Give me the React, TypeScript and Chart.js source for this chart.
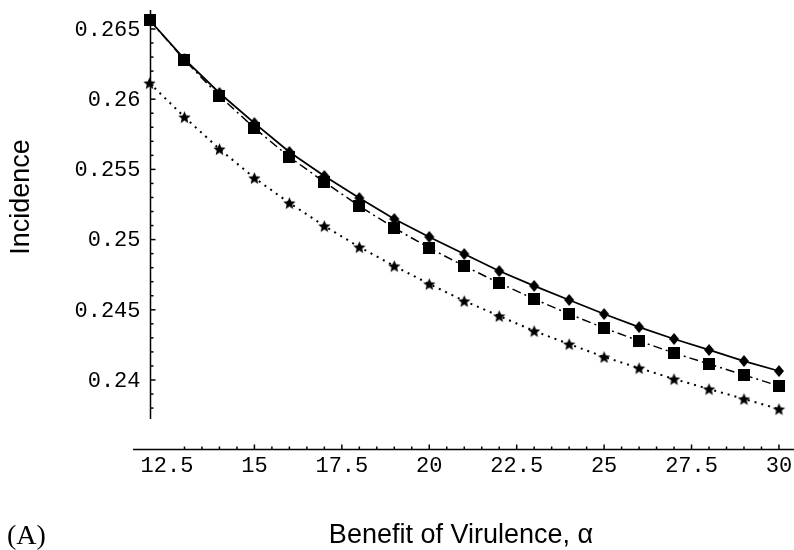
import React, { useEffect, useRef } from "react";
import { Chart, registerables } from "chart.js";

Chart.register(...registerables);

// ---- data ----
const alphaValues = [12, 13, 14, 15, 16, 17, 18, 19, 20, 21, 22, 23, 24, 25, 26, 27, 28, 29, 30];
const diamondSeries = [
  0.26564, 0.26286, 0.26044, 0.2583, 0.25624, 0.25453, 0.25296, 0.25147, 0.25019, 0.24897,
  0.24776, 0.2467, 0.2457, 0.2447, 0.24377, 0.24292, 0.24214, 0.24135, 0.24064,
];
const squareSeries = [
  0.26564, 0.26279, 0.26023, 0.25795, 0.25588, 0.2541, 0.25239, 0.25083, 0.2494, 0.24812,
  0.24691, 0.24577, 0.2447, 0.2437, 0.24278, 0.24192, 0.24114, 0.24036, 0.23957,
];
const starSeries = [
  0.26115, 0.25873, 0.25645, 0.25439, 0.25261, 0.25097, 0.24947, 0.24812, 0.24684, 0.24563,
  0.24456, 0.24349, 0.24256, 0.24164, 0.24085, 0.24007, 0.23936, 0.23865, 0.23793,
];

const xTickValues = [12.5, 15, 17.5, 20, 22.5, 25, 27.5, 30];
const xTickLabels = ["12.5", "15", "17.5", "20", "22.5", "25", "27.5", "30"];
const yTickValues = [0.24, 0.245, 0.25, 0.255, 0.26, 0.265];
const yTickLabels = ["0.24", "0.245", "0.25", "0.255", "0.26", "0.265"];

const xTitle = "Benefit of Virulence, \u03b1";
const yTitle = "Incidence";
const panelLabel = "(A)";

// ---- marker images ----
function makeStar(r: number): HTMLCanvasElement {
  const c = document.createElement("canvas");
  const s = Math.ceil(r * 2 + 2);
  c.width = s;
  c.height = s;
  const g = c.getContext("2d")!;
  const cx = s / 2;
  const cy = s / 2 + r * 0.1;
  g.beginPath();
  for (let i = 0; i < 10; i++) {
    const rr = i % 2 === 0 ? r : r * 0.45;
    const a = -Math.PI / 2 + (i * Math.PI) / 5;
    const px = cx + rr * Math.cos(a);
    const py = cy + rr * Math.sin(a);
    if (i === 0) g.moveTo(px, py);
    else g.lineTo(px, py);
  }
  g.closePath();
  g.fillStyle = "#000";
  g.fill();
  return c;
}

function makeDiamond(w: number, h: number): HTMLCanvasElement {
  const c = document.createElement("canvas");
  c.width = Math.ceil(w + 2);
  c.height = Math.ceil(h + 2);
  const g = c.getContext("2d")!;
  const cx = c.width / 2;
  const cy = c.height / 2;
  g.beginPath();
  g.moveTo(cx, cy - h / 2);
  g.lineTo(cx + w / 2, cy);
  g.lineTo(cx, cy + h / 2);
  g.lineTo(cx - w / 2, cy);
  g.closePath();
  g.fillStyle = "#000";
  g.fill();
  return c;
}

function makeSquare(side: number): HTMLCanvasElement {
  const c = document.createElement("canvas");
  c.width = Math.ceil(side);
  c.height = Math.ceil(side);
  const g = c.getContext("2d")!;
  g.fillStyle = "#000";
  g.fillRect(0, 0, side, side);
  return c;
}

const axesPlugin = {
  id: "mmaAxes",
  afterDraw(chart: any) {
    const { ctx, chartArea, scales } = chart;
    const xs = scales.x;
    const ys = scales.y;
    ctx.save();
    ctx.strokeStyle = "#000";
    ctx.fillStyle = "#000";
    ctx.lineWidth = 1.5;

    // y axis at alpha = 12
    const ax = Math.round(xs.getPixelForValue(12)) + 0.5;
    const yTop = ys.getPixelForValue(0.26635);
    const yBot = ys.getPixelForValue(0.23722);
    ctx.beginPath();
    ctx.moveTo(ax, yTop);
    ctx.lineTo(ax, yBot);
    ctx.stroke();

    // y ticks
    for (let k = 238; k <= 266; k++) {
      const v = k / 1000;
      const py = ys.getPixelForValue(v);
      const major = k % 5 === 0;
      ctx.beginPath();
      ctx.moveTo(ax, py);
      ctx.lineTo(ax + (major ? 5 : 3), py);
      ctx.stroke();
    }
    ctx.font = "22px 'Liberation Mono', 'DejaVu Sans Mono', monospace";
    ctx.textAlign = "right";
    ctx.textBaseline = "middle";
    yTickValues.forEach((v, i) => {
      ctx.fillText(yTickLabels[i], ax - 10, ys.getPixelForValue(v) + 1);
    });

    // x axis along bottom
    const by = Math.round(chartArea.bottom) + 0.5;
    ctx.beginPath();
    ctx.moveTo(chartArea.left, by);
    ctx.lineTo(chartArea.right, by);
    ctx.stroke();
    for (let k = 26; k <= 60; k++) {
      const v = k / 2;
      const px = xs.getPixelForValue(v);
      if (px > chartArea.right) continue;
      const major = k % 5 === 0;
      ctx.beginPath();
      ctx.moveTo(px, by);
      ctx.lineTo(px, by - (major ? 5 : 3));
      ctx.stroke();
    }
    ctx.textAlign = "center";
    ctx.textBaseline = "middle";
    xTickValues.forEach((v, i) => {
      ctx.fillText(xTickLabels[i], xs.getPixelForValue(v), by + 17);
    });

    // titles
    ctx.font = "27px 'Liberation Sans', Arial, sans-serif";
    ctx.textAlign = "center";
    ctx.textBaseline = "middle";
    ctx.fillText(xTitle, 461, 536);

    ctx.save();
    ctx.translate(22, 197);
    ctx.rotate(-Math.PI / 2);
    ctx.font = "27px 'Liberation Sans', Arial, sans-serif";
    ctx.fillText(yTitle, 0, 0);
    ctx.restore();

    ctx.font = "28px 'Liberation Serif', 'Times New Roman', serif";
    ctx.textAlign = "left";
    ctx.textBaseline = "middle";
    ctx.fillText(panelLabel, 7, 537);

    ctx.restore();
  },
};

export default function App() {
  const ref = useRef<HTMLCanvasElement | null>(null);

  useEffect(() => {
    if (!ref.current) return;
    const toPts = (vals: number[]) => alphaValues.map((a, i) => ({ x: a, y: vals[i] }));
    const square = makeSquare(12);
    const diamond = makeDiamond(10, 12);
    const star = makeStar(6.5);

    const chart = new Chart(ref.current, {
      type: "line",
      data: {
        datasets: [
          {
            label: "squares",
            data: toPts(squareSeries),
            borderColor: "#000",
            borderWidth: 1.5,
            borderDash: [9, 4, 2, 4],
            pointStyle: square as any,
            backgroundColor: "#000",
            pointRadius: 6,
            fill: false,
            tension: 0,
          },
          {
            label: "diamonds",
            data: toPts(diamondSeries),
            borderColor: "#000",
            borderWidth: 1.8,
            pointStyle: diamond as any,
            backgroundColor: "#000",
            pointRadius: 6,
            fill: false,
            tension: 0,
          },
          {
            label: "stars",
            data: toPts(starSeries),
            borderColor: "#000",
            borderWidth: 2,
            borderDash: [2, 5],
            pointStyle: star as any,
            backgroundColor: "#000",
            pointRadius: 6,
            fill: false,
            tension: 0,
          },
        ],
      },
      options: {
        responsive: false,
        animation: false,
        events: [],
        clip: false as any,
        layout: { autoPadding: false, padding: { left: 133, right: 0, top: 10, bottom: 101 } },
        scales: {
          x: { type: "linear", min: 11.528, max: 30.43, display: false },
          y: { type: "linear", min: 0.235085, max: 0.266353, display: false },
        },
        plugins: {
          legend: { display: false },
          tooltip: { enabled: false },
        },
      },
      plugins: [axesPlugin],
    });
    return () => chart.destroy();
  }, []);

  return (
    <div style={{ position: "absolute", left: 0, top: 0, width: 794, height: 550, background: "#fff" }}>
      <canvas ref={ref} width={794} height={550} style={{ width: 794, height: 550, display: "block" }} />
    </div>
  );
}
